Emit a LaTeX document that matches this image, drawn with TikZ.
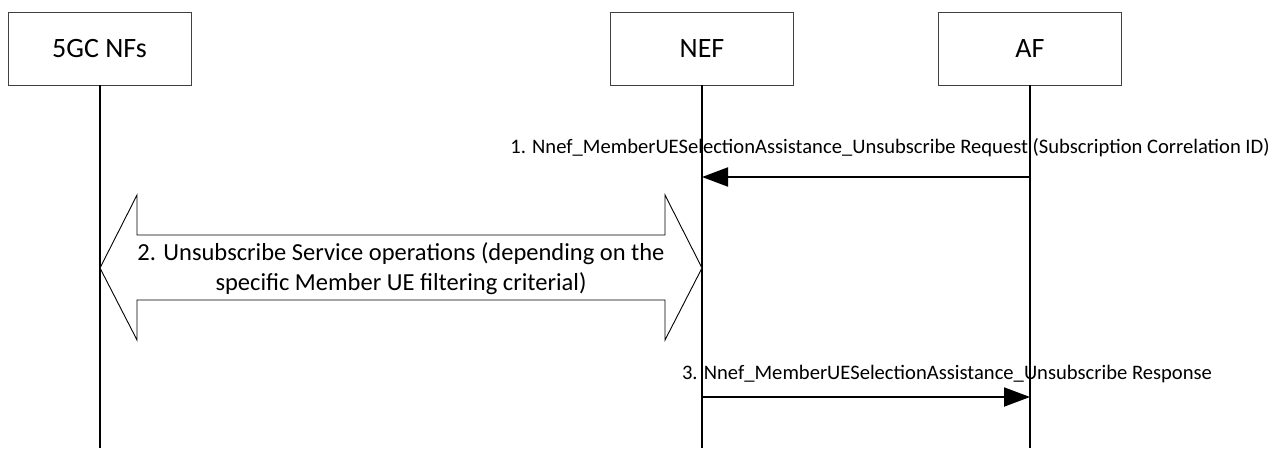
\documentclass[tikz,border=0pt]{standalone}
\usepackage{fontspec}
\setmainfont{Carlito}
\usetikzlibrary{arrows.meta}
\begin{document}
\begin{tikzpicture}[x=1pt,y=-1pt,
  entity/.style={draw=black!75,line width=0.8pt,minimum width=183pt,minimum height=73pt,inner sep=0pt,font=\fontsize{28}{32}\selectfont},
  life/.style={line width=2pt},
  msg/.style={line width=2pt,-{Triangle[length=26pt,width=19pt]}},
  lbl/.style={font=\fontsize{20.6}{24}\selectfont,inner sep=0pt}]
\useasboundingbox (0,0) rectangle (1273,448);
\node[entity] (nfs) at (99.5,48.5) {5GC NFs};
\node[entity] (nef) at (702,48.5) {NEF};
\node[entity] (af) at (1030,48.5) {AF};
\coordinate (nfsE) at (99.5,448);
\coordinate (nefE) at (702,448);
\coordinate (afE) at (1030,448);
\draw[life] (nfs.south) -- (nfsE);
\draw[life] (nef.south) -- (nefE);
\draw[life] (af.south) -- (afE);
% message 1
\coordinate (m1a) at (1030,177);
\coordinate (m1b) at (702,177);
\draw[msg] (m1a) -- (m1b);
\node[lbl] (l1) at (890,148) {1. Nnef\_MemberUESelectionAssistance\_Unsubscribe Request (Subscription Correlation ID)};
% block double arrow
\draw[line width=0.9pt,fill=white] (100,268) -- (137,195) -- (137,235) -- (665,235) -- (665,195) -- (702,268) -- (665,340) -- (665,300) -- (137,300) -- (137,340) -- cycle;
\node[font=\fontsize{24.5}{30}\selectfont,align=center,inner sep=0pt] (l2) at (401,269) {2. Unsubscribe Service operations (depending on the\\specific Member UE filtering criterial)};
% message 3
\coordinate (m3a) at (702,397);
\coordinate (m3b) at (1030,397);
\draw[msg] (m3a) -- (m3b);
\node[lbl] (l3) at (947,374) {3. Nnef\_MemberUESelectionAssistance\_Unsubscribe Response};
\end{tikzpicture}
\end{document}
